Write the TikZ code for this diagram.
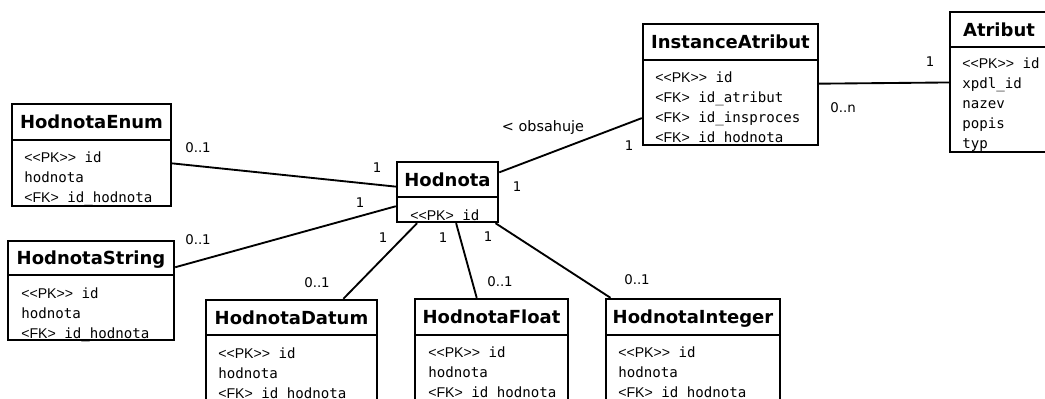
\documentclass[tikz,border=0pt]{standalone}
\usepackage{fontspec}
\setmainfont{DejaVu Sans}
\setmonofont{DejaVu Sans Mono}
\newfontfamily\tagfont{Liberation Sans}
\usetikzlibrary{positioning}

\newcommand{\pkey}{{\tagfont <{}<PK>{}>}}
\newcommand{\fkey}{{\tagfont <FK>}}

\tikzset{
  every picture/.style={line width=0.75pt},
  size/.style 2 args={minimum width=#1*0.75pt, minimum height=#2*0.75pt},
  classbox/.style={draw, line width=1.8pt, inner sep=0pt},
  classtitle/.style={draw, line width=1.8pt, inner sep=0pt, font=\bfseries\fontsize{13.5}{16}\selectfont, text height=9.8pt, text depth=0pt},
  classtext/.style={inner sep=0pt, align=left, anchor=north west, font=\ttfamily\fontsize{10.6}{15}\selectfont},
  mult/.style={inner sep=0pt, font=\fontsize{10}{12}\selectfont},
  assoc/.style={line width=1.4pt},
}

\begin{document}
\begin{tikzpicture}[x=0.75pt,y=0.75pt,yscale=-1,xscale=1]
	\useasboundingbox (0,0) rectangle (1045,399);
	\clip (0,0) rectangle (1045,399);

	% Classes
	\node[classbox, size={159}{102}] (enum) at (91.5,155) {};
	\node[classtitle, size={159}{36}, below=0pt of enum.north] (enumT) {HodnotaEnum};
	\node[classtext] (enumB) at ([shift={(13,10.3)}]enumT.south west) {\pkey\ id\\hodnota\\\fkey\ id\_hodnota};

	\node[classbox, size={166}{99}] (string) at (91,290.5) {};
	\node[classtitle, size={166}{34}, below=0pt of string.north] (stringT) {HodnotaString};
	\node[classtext] (stringB) at ([shift={(14,11.3)}]stringT.south west) {\pkey\ id\\hodnota\\\fkey\ id\_hodnota};

	\node[classbox, size={171}{104}] (datum) at (291.5,352) {};
	\node[classtitle, size={171}{35}, below=0pt of datum.north] (datumT) {HodnotaDatum};
	\node[classtext] (datumB) at ([shift={(13,11.3)}]datumT.south west) {\pkey\ id\\hodnota\\\fkey\ id\_hodnota};

	\node[classbox, size={153}{105}] (float) at (491.5,351.5) {};
	\node[classtitle, size={153}{36}, below=0pt of float.north] (floatT) {HodnotaFloat};
	\node[classtext] (floatB) at ([shift={(14,10.3)}]floatT.south west) {\pkey\ id\\hodnota\\\fkey\ id\_hodnota};

	\node[classbox, size={174}{105}] (integer) at (693,351.5) {};
	\node[classtitle, size={174}{36}, below=0pt of integer.north] (integerT) {HodnotaInteger};
	\node[classtext] (integerB) at ([shift={(13,10.3)}]integerT.south west) {\pkey\ id\\hodnota\\\fkey\ id\_hodnota};

	\node[classbox, size={101}{60}] (hodnota) at (447.5,192) {};
	\node[classtitle, size={101}{35}, below=0pt of hodnota.north] (hodnotaT) {Hodnota};
	\node[classtext] (hodnotaB) at ([shift={(14,11.3)}]hodnotaT.south west) {{\tagfont <{}<PK>} id};

	\node[classbox, size={175}{121}] (instance) at (730.5,84.5) {};
	\node[classtitle, size={175}{36}, below=0pt of instance.north] (instanceT) {InstanceAtribut};
	\node[classtext] (instanceB) at ([shift={(13,10.3)}]instanceT.south west) {\pkey\ id\\\fkey\ id\_atribut\\\fkey\ id\_insproces\\\fkey\ id\_hodnota};

	\node[classbox, size={98}{140}] (atribut) at (999,82) {};
	\node[classtitle, size={98}{35}, below=0pt of atribut.north] (atributT) {Atribut};
	\node[classtext] (atributB) at ([shift={(13,9.3)}]atributT.south west) {\pkey\ id\\xpdl\_id\\nazev\\popis\\typ};

	% Associations
	\draw[assoc] (hodnota) -- (enum);
	\draw[assoc] (hodnota) -- (string);
	\draw[assoc] (hodnota) -- (datum);
	\draw[assoc] (hodnota) -- (float);
	\draw[assoc] (hodnota) -- (integer);
	\draw[assoc] (hodnota) -- (instance);
	\draw[assoc] (instance) -- (atribut);

	% Multiplicities
	\node[mult] (mEnum) at (198,148) {0..1};
	\node[mult] (mEnumH) at (377,168) {1};
	\node[mult] (mString) at (198,240) {0..1};
	\node[mult] (mStringH) at (360,203) {1};
	\node[mult] (mDatum) at (317,283) {0..1};
	\node[mult] (mDatumH) at (383,238) {1};
	\node[mult] (mFloat) at (500,282) {0..1};
	\node[mult] (mFloatH) at (443,238) {1};
	\node[mult] (mInteger) at (637,280) {0..1};
	\node[mult] (mIntegerH) at (488,237) {1};
	\node[mult] (mInstH) at (517,187) {1};
	\node[mult] (mInst) at (629,146) {1};
	\node[mult] (mAtrInst) at (843,108) {0..n};
	\node[mult] (mAtr) at (930,62) {1};
	% Role
	\node[mult, font=\fontsize{10.8}{13}\selectfont] (obsahuje) at (543,128) {< obsahuje};

\end{tikzpicture}
\end{document}
